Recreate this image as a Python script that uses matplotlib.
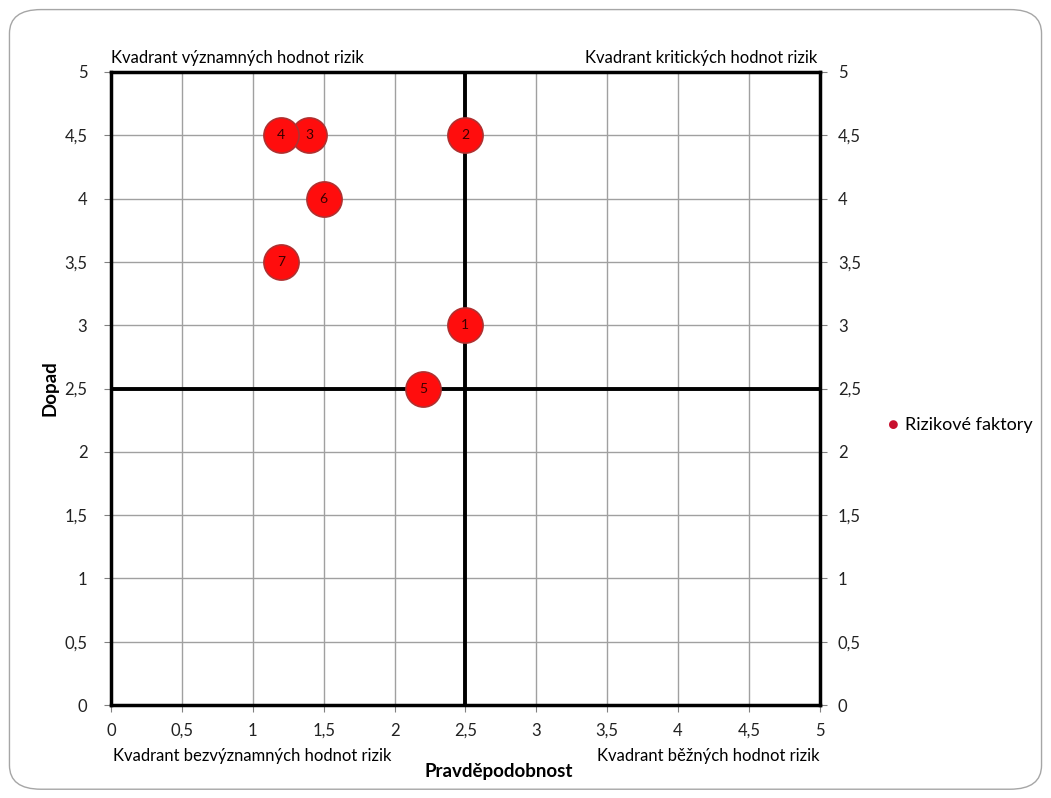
import matplotlib
matplotlib.use('Agg')
import matplotlib.pyplot as plt
from matplotlib.patches import FancyBboxPatch
from matplotlib.ticker import MultipleLocator, FuncFormatter

plt.rcParams['font.family'] = ['Lato', 'DejaVu Sans']

# risk factors: probability (x) and impact (y)
factor_ids = ["1", "2", "3", "4", "5", "6", "7"]
probability = [2.5, 2.5, 1.4, 1.2, 2.2, 1.5, 1.2]
impact = [3.0, 4.5, 4.5, 4.5, 2.5, 4.0, 3.5]

threshold = 2.5
axis_max = 5


def comma_fmt(v, _pos):
    s = f"{v:g}"
    return s.replace(".", ",")


fig = plt.figure(figsize=(10.51, 7.98), dpi=100)

# rounded chart border
border = FancyBboxPatch((0.009, 0.011), 0.982, 0.977,
                        boxstyle="round,pad=0,rounding_size=0.03",
                        transform=fig.transFigure, facecolor="none",
                        edgecolor="#a6a6a6", linewidth=1.0, zorder=-5)
fig.patches.append(border)

ax = fig.add_axes([0.1056, 0.1165, 0.6744, 0.7933])
ax.set_xlim(0, axis_max)
ax.set_ylim(0, axis_max)
ax.xaxis.set_major_locator(MultipleLocator(0.5))
ax.yaxis.set_major_locator(MultipleLocator(0.5))
ax.xaxis.set_major_formatter(FuncFormatter(comma_fmt))
ax.yaxis.set_major_formatter(FuncFormatter(comma_fmt))
ax.grid(True, color="#a0a0a0", linewidth=1.0)
ax.set_axisbelow(True)
ax.tick_params(labelsize=12, length=5, color="#808080", labelcolor="#222222")
ax.tick_params(axis="y", pad=12)
ax.tick_params(axis="x", pad=8)
for sp in ax.spines.values():
    sp.set_linewidth(2.5)
    sp.set_color("black")

# same impact scale repeated on the right side
right = ax.secondary_yaxis("right")
right.yaxis.set_major_locator(MultipleLocator(0.5))
right.yaxis.set_major_formatter(FuncFormatter(comma_fmt))
right.tick_params(labelsize=12, length=5, color="#808080", pad=8,
                  labelcolor="#222222")
right.spines["right"].set_visible(False)

# quadrant dividers
ax.plot([threshold, threshold], [0, axis_max], color="black", lw=2.8, zorder=2)
ax.plot([0, axis_max], [threshold, threshold], color="black", lw=2.8, zorder=2)

ax.scatter(probability, impact, s=640, color="#ff0d0d", edgecolors="#b03030",
           linewidths=1.2, zorder=3, clip_on=False)
for lbl, x, y in zip(factor_ids, probability, impact):
    ax.text(x, y, lbl, ha="center", va="center", fontsize=10,
            color="#3a0000", zorder=4)

ax.set_xlabel("Pravděpodobnost", fontsize=13.5, fontweight="bold")
ax.xaxis.set_label_coords(0.547, -0.092)
ax.set_ylabel("Dopad", fontsize=13.5, fontweight="bold")
ax.yaxis.set_label_coords(-0.074, 0.5)

# quadrant captions
ax.text(0.0, 1.01, "Kvadrant významných hodnot rizik", transform=ax.transAxes,
        ha="left", va="bottom", fontsize=12)
ax.text(0.997, 1.01, "Kvadrant kritických hodnot rizik", transform=ax.transAxes,
        ha="right", va="bottom", fontsize=12)
ax.text(0.003, -0.068, "Kvadrant bezvýznamných hodnot rizik", transform=ax.transAxes,
        ha="left", va="top", fontsize=12)
ax.text(1.0, -0.068, "Kvadrant běžných hodnot rizik", transform=ax.transAxes,
        ha="right", va="top", fontsize=12)

# legend
fig.text(0.850, 0.467, "\u25cf", color="#c8102e", fontsize=13,
         ha="center", va="center")
fig.text(0.861, 0.467, "Rizikové faktory", fontsize=13, ha="left", va="center")

fig.savefig("out.png", dpi=100)
